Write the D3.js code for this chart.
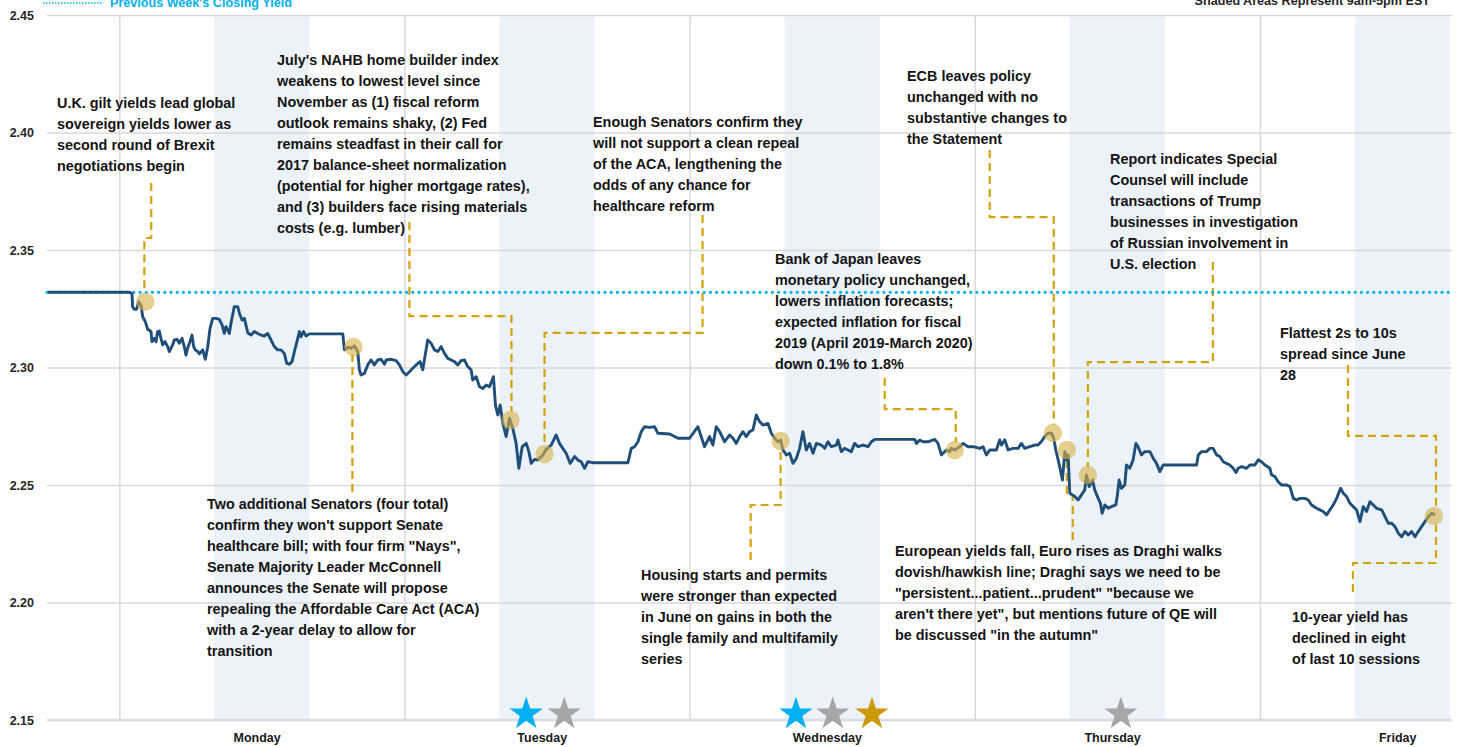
<!DOCTYPE html>
<html>
<head>
<meta charset="utf-8">
<script src="https://cdn.jsdelivr.net/npm/d3@7"></script>
<style>
  body { margin: 0; background: #fff; }
  svg { display: block; font-family: "Liberation Sans", Arial, sans-serif; }
</style>
</head>
<body>
<svg id="chart" width="1458" height="747"></svg>
<script>
// hours since Monday 00:00 and the 10-year yield at that time
const timeHours = [-6, 0.84, 1.07, 1.12, 1.26, 1.46, 1.63, 1.83, 1.97, 2.19, 2.39, 2.67, 2.75, 2.95, 3.09, 3.23, 3.37, 3.51, 3.65, 3.85,
  4.07, 4.21, 4.49, 4.63, 4.86, 5.05, 5.28, 5.47, 5.61, 5.75, 5.95, 6.12, 6.26, 6.40, 6.60, 6.74, 7.02, 7.24, 7.44, 7.64,
  7.86, 8.14, 8.42, 8.65, 8.84, 8.98, 9.26, 9.40, 9.68, 9.97, 10.11, 10.33, 10.53, 10.81, 11.09, 11.37, 11.65, 11.93, 12.21, 12.49,
  12.77, 13.05, 13.33, 13.61, 13.89, 14.09, 14.32, 14.54, 14.74, 15.02, 15.16, 15.30, 15.50, 15.72, 16.00, 18.81, 18.95, 19.23, 19.51, 19.79,
  20.07, 20.21, 20.35, 20.63, 20.91, 21.19, 21.47, 21.75, 22.03, 22.32, 22.46, 22.88, 23.30, 23.58, 23.86, 24.14, 24.42, 24.70, 24.98, 25.32,
  25.54, 25.68, 25.96, 26.25, 26.53, 26.81, 27.09, 27.37, 27.65, 27.93, 28.21, 28.49, 28.77, 29.05, 29.33, 29.61, 29.75, 30.04, 30.32, 30.60,
  30.88, 31.16, 31.49, 31.66, 31.86, 32.06, 32.28, 32.56, 32.84, 33.12, 33.40, 33.63, 33.91, 34.25, 34.47, 34.67, 34.95, 35.23, 35.65, 35.93,
  36.35, 36.77, 37.05, 37.33, 37.61, 37.95, 38.32, 38.60, 38.88, 39.16, 39.44, 39.86, 42.81, 43.09, 43.37, 43.65, 43.93, 44.21, 44.63, 45.05,
  45.33, 46.32, 47.02, 48.00, 48.70, 49.26, 49.68, 49.96, 50.24, 50.53, 50.95, 51.37, 51.65, 51.93, 52.21, 52.49, 52.77, 53.05, 53.33, 53.61,
  53.89, 54.17, 54.60, 54.88, 55.16, 55.44, 55.66, 55.86, 56.14, 56.42, 56.70, 56.98, 57.26, 57.54, 57.82, 58.10, 58.39, 58.67, 59.09, 59.37,
  59.65, 59.93, 60.35, 60.49, 60.77, 61.05, 61.33, 61.61, 61.89, 62.18, 62.60, 63.02, 63.30, 63.58, 66.95, 67.09, 67.37, 67.65, 68.07, 68.63,
  68.91, 69.19, 69.61, 69.89, 70.03, 70.32, 70.74, 71.02, 71.44, 71.86, 72.42, 72.70, 72.98, 73.26, 73.82, 74.10, 74.25, 74.53, 74.81, 75.23,
  75.65, 75.93, 76.21, 76.63, 77.05, 77.33, 77.61, 77.89, 78.17, 78.46, 78.65, 78.82, 79.02, 79.21, 79.38, 79.58, 79.72, 79.86, 80.00, 80.22,
  80.42, 80.70, 80.98, 81.26, 81.40, 81.63, 81.91, 82.10, 82.39, 82.58, 82.72, 82.95, 83.23, 83.51, 83.87, 84.01, 84.15, 84.35, 84.63, 84.77,
  85.05, 85.33, 85.56, 85.75, 86.03, 86.32, 86.74, 87.02, 87.30, 87.58, 87.86, 88.00, 90.67, 90.81, 91.09, 91.51, 91.79, 92.07, 92.35, 92.63,
  92.91, 93.19, 93.47, 93.75, 93.98, 94.17, 94.46, 94.88, 95.16, 95.58, 95.86, 96.14, 96.42, 96.84, 96.98, 97.26, 97.54, 97.82, 98.25, 98.53,
  98.81, 99.09, 99.37, 99.79, 100.07, 100.35, 100.77, 101.05, 101.33, 101.61, 101.89, 102.17, 102.46, 102.79, 103.02, 103.30, 103.58, 103.86, 104.14, 104.42,
  104.70, 104.98, 105.26, 105.54, 105.82, 106.25, 106.53, 106.81, 107.09, 107.37, 107.65, 107.93, 108.21, 108.49, 108.77, 109.05, 109.33, 109.61, 109.89, 110.18,
  110.46, 110.74];
const yieldValues = [2.332, 2.332, 2.3315, 2.3259, 2.3248, 2.3248, 2.3280, 2.3266, 2.3216, 2.3195, 2.3163, 2.3153, 2.3110, 2.3124, 2.3110, 2.3153, 2.3155, 2.3124, 2.3096, 2.3110,
  2.3089, 2.3068, 2.3096, 2.3117, 2.3120, 2.3103, 2.3124, 2.3089, 2.3053, 2.3082, 2.3110, 2.3138, 2.3089, 2.3075, 2.3068, 2.3058, 2.3075, 2.3035, 2.3086, 2.3167,
  2.3209, 2.3209, 2.3205, 2.3181, 2.3145, 2.3174, 2.3145, 2.3188, 2.3259, 2.3259, 2.3231, 2.3202, 2.3209, 2.3148, 2.3138, 2.3153, 2.3145, 2.3138, 2.3134, 2.3145,
  2.3117, 2.3089, 2.3075, 2.3075, 2.3060, 2.3018, 2.3014, 2.3025, 2.3068, 2.3124, 2.3153, 2.3131, 2.3153, 2.3134, 2.3143, 2.3143, 2.3075, 2.3086, 2.3082, 2.3092,
  2.3068, 2.2990, 2.2968, 2.2975, 2.3011, 2.3032, 2.3011, 2.3032, 2.3035, 2.3014, 2.3032, 2.3035, 2.3029, 2.3011, 2.2982, 2.2968, 2.2982, 2.2997, 2.3011, 2.3025,
  2.2990, 2.3032, 2.3117, 2.3103, 2.3075, 2.3068, 2.3089, 2.3060, 2.3039, 2.3032, 2.3025, 2.3011, 2.3029, 2.3032, 2.3004, 2.2990, 2.2947, 2.2961, 2.2918, 2.2911,
  2.2926, 2.2918, 2.2961, 2.2840, 2.2798, 2.2840, 2.2763, 2.2706, 2.2784, 2.2741, 2.2677, 2.2571, 2.2663, 2.2677, 2.2642, 2.2592, 2.2609, 2.2606, 2.2628, 2.2652,
  2.2670, 2.2713, 2.2677, 2.2656, 2.2635, 2.2592, 2.2621, 2.2606, 2.2599, 2.2571, 2.2599, 2.2595, 2.2595, 2.2656, 2.2663, 2.2684, 2.2727, 2.2748, 2.2745, 2.2748,
  2.2720, 2.2717, 2.2699, 2.2699, 2.2748, 2.2663, 2.2706, 2.2670, 2.2748, 2.2727, 2.2684, 2.2713, 2.2699, 2.2677, 2.2706, 2.2727, 2.2706, 2.2727, 2.2734, 2.2798,
  2.2770, 2.2755, 2.2762, 2.2720, 2.2699, 2.2684, 2.2691, 2.2649, 2.2628, 2.2635, 2.2592, 2.2613, 2.2656, 2.2727, 2.2649, 2.2677, 2.2635, 2.2677, 2.2670, 2.2656,
  2.2684, 2.2663, 2.2670, 2.2691, 2.2642, 2.2656, 2.2649, 2.2642, 2.2677, 2.2663, 2.2670, 2.2663, 2.2684, 2.2694, 2.2694, 2.2677, 2.2691, 2.2684, 2.2684, 2.2694,
  2.2677, 2.2628, 2.2649, 2.2642, 2.2656, 2.2649, 2.2663, 2.2677, 2.2663, 2.2663, 2.2656, 2.2663, 2.2628, 2.2649, 2.2649, 2.2692, 2.2670, 2.2692, 2.2649, 2.2656,
  2.2656, 2.2677, 2.2656, 2.2663, 2.2670, 2.2670, 2.2685, 2.2706, 2.2720, 2.2720, 2.2699, 2.2649, 2.2607, 2.2564, 2.2521, 2.2642, 2.2607, 2.2628, 2.2465, 2.2458,
  2.2451, 2.2436, 2.2458, 2.2479, 2.2543, 2.2493, 2.2521, 2.2479, 2.2443, 2.2422, 2.2380, 2.2415, 2.2401, 2.2408, 2.2415, 2.2458, 2.2521, 2.2486, 2.2500, 2.2585,
  2.2571, 2.2607, 2.2677, 2.2663, 2.2628, 2.2642, 2.2642, 2.2614, 2.2592, 2.2557, 2.2585, 2.2585, 2.2585, 2.2628, 2.2642, 2.2642, 2.2656, 2.2656, 2.2628, 2.2621,
  2.2599, 2.2592, 2.2585, 2.2571, 2.2553, 2.2571, 2.2578, 2.2571, 2.2585, 2.2585, 2.2607, 2.2599, 2.2585, 2.2571, 2.2543, 2.2536, 2.2514, 2.2500, 2.2500, 2.2493,
  2.2443, 2.2436, 2.2443, 2.2443, 2.2436, 2.2415, 2.2401, 2.2394, 2.2387, 2.2373, 2.2394, 2.2415, 2.2443, 2.2486, 2.2465, 2.2451, 2.2422, 2.2408, 2.2394, 2.2344,
  2.2408, 2.2387, 2.2429, 2.2415, 2.2401, 2.2394, 2.2365, 2.2337, 2.2337, 2.2323, 2.2295, 2.2280, 2.2302, 2.2287, 2.2302, 2.2280, 2.2302, 2.2323, 2.2344, 2.2365,
  2.2380, 2.2373];

const prevWeekClose = 2.332;
const yTicks = [2.15, 2.20, 2.25, 2.30, 2.35, 2.40, 2.45];
const dayNames = ["Monday", "Tuesday", "Wednesday", "Thursday", "Friday"];
const dayStarts = [0, 24, 48, 72, 96];

// highlighted events on the line
const eventHours = [2.19, 19.71, 32.93, 35.79, 55.66, 70.32, 78.57, 79.75, 81.52, 110.65];
const eventYields = [2.328, 2.3087, 2.2777, 2.2632, 2.2687, 2.2649, 2.2721, 2.2649, 2.2543, 2.2368];

// data release stars
const starHours = [34.25, 37.45, 56.95, 60.05, 63.35, 84.3];
const starKinds = ["cyan", "gray", "cyan", "gray", "gold", "gray"];

const notes = [
  ["U.K. gilt yields lead global", "sovereign yields lower as", "second round of Brexit", "negotiations begin"],
  ["July's NAHB home builder index", "weakens to lowest level since", "November as (1) fiscal reform", "outlook remains shaky, (2) Fed",
   "remains steadfast in their call for", "2017 balance-sheet normalization", "(potential for higher mortgage rates),",
   "and (3) builders face rising materials", "costs (e.g. lumber)"],
  ["Enough Senators confirm they", "will not support a clean repeal", "of the ACA, lengthening the", "odds of any chance for", "healthcare reform"],
  ["ECB leaves policy", "unchanged with no", "substantive changes to", "the Statement"],
  ["Report indicates Special", "Counsel will include", "transactions of Trump", "businesses in investigation", "of Russian involvement in", "U.S. election"],
  ["Bank of Japan leaves", "monetary policy unchanged,", "lowers inflation forecasts;", "expected inflation for fiscal", "2019 (April 2019-March 2020)", "down 0.1% to 1.8%"],
  ["Flattest 2s to 10s", "spread since June", "28"],
  ["Two additional Senators (four total)", "confirm they won't support Senate", "healthcare bill; with four firm \"Nays\",",
   "Senate Majority Leader McConnell", "announces the Senate will propose", "repealing the Affordable Care Act (ACA)",
   "with a 2-year delay to allow for", "transition"],
  ["Housing starts and permits", "were stronger than expected", "in June on gains in both the", "single family and multifamily", "series"],
  ["European yields fall, Euro rises as Draghi walks", "dovish/hawkish line; Draghi says we need to be",
   "\"persistent...patient...prudent\" \"because we", "aren't there yet\", but mentions future of QE will", "be discussed \"in the autumn\""],
  ["10-year yield has", "declined in eight", "of last 10 sessions"]
];
// where each note sits (left, first baseline) in pixels
const noteSpots = [[57, 108], [277, 65], [593, 127], [907, 81], [1110, 164], [775, 264], [1280, 338], [207, 509], [641, 580], [895, 556], [1292, 622]];

// leader routes in [hour, yield]
const leaders = [
  [[2.69, 2.3785], [2.69, 2.3551], [2.11, 2.3551], [2.11, 2.332]],
  [[24.42, 2.3619], [24.42, 2.3219], [33.01, 2.3219], [33.01, 2.2811]],
  [[49.09, 2.3649], [49.09, 2.3147], [35.79, 2.3147], [35.79, 2.2666]],
  [[73.26, 2.3926], [73.26, 2.364], [78.65, 2.364], [78.65, 2.2755]],
  [[92.04, 2.3449], [92.04, 2.3023], [81.52, 2.3023], [81.52, 2.2575]],
  [[64.42, 2.2955], [64.42, 2.2823], [70.4, 2.2823], [70.4, 2.2683]],
  [[103.41, 2.3011], [103.41, 2.2709], [110.82, 2.2709], [110.82, 2.2402]],
  [[19.62, 2.247], [19.62, 2.3055]],
  [[53.14, 2.2181], [53.14, 2.2415], [55.66, 2.2415], [55.66, 2.2655]],
  [[80.25, 2.2266], [80.25, 2.2457], [79.75, 2.2457], [79.75, 2.2617]],
  [[103.83, 2.2045], [103.83, 2.2168], [110.82, 2.2168], [110.82, 2.2330]]
];

const svg = d3.select("#chart");
const plotLeft = 47, plotRight = 1452, plotTop = 15, plotBottom = 720;

const x = d3.scaleLinear().domain([-6, 112]).range([48, 1450]);
const y = d3.scaleLinear().domain([2.15, 2.45]).range([plotBottom, plotTop]);

const starColor = d3.scaleOrdinal().domain(["cyan", "gray", "gold"]).range(["#00B0F0", "#A6A6A6", "#CC9A06"]);

// shaded 9am-5pm windows
svg.append("g").selectAll("rect")
  .data(dayStarts)
  .enter()
  .append("rect")
  .attr("x", d => x(d + 8))
  .attr("y", plotTop)
  .attr("width", d => Math.min(x(d + 16), x(112)) - x(d + 8))
  .attr("height", plotBottom - plotTop)
  .attr("fill", "#EBF2FA");

// horizontal grid + labels
const yAxis = svg.append("g")
  .attr("transform", `translate(${plotLeft},0)`)
  .call(d3.axisLeft(y).tickValues(yTicks).tickFormat(d3.format(".2f")).tickSize(-(plotRight - plotLeft)).tickPadding(13));
yAxis.select(".domain").remove();
yAxis.selectAll(".tick line").attr("stroke", "#D9D9D9").attr("stroke-width", 1.5);
yAxis.selectAll(".tick text").attr("font-size", 12.5).attr("font-weight", "bold").attr("fill", "#262626")
  .attr("font-family", "'Liberation Sans', Arial, sans-serif");

// day boundary lines
const xAxis = svg.append("g")
  .attr("transform", `translate(0,${plotBottom})`)
  .call(d3.axisBottom(x).tickValues(dayStarts).tickSize(-(plotBottom - plotTop)).tickFormat(""));
xAxis.select(".domain").remove();
xAxis.selectAll(".tick line").attr("stroke", "#D9D9D9").attr("stroke-width", 1.5);

svg.append("line")
  .attr("x1", plotLeft).attr("x2", plotRight)
  .attr("y1", plotBottom).attr("y2", plotBottom)
  .attr("stroke", "#D9DEE6").attr("stroke-width", 2.5);

svg.append("g").selectAll("text")
  .data(dayNames)
  .enter()
  .append("text")
  .attr("x", (d, i) => x(dayStarts[i] + 11.6))
  .attr("y", 742)
  .attr("text-anchor", "middle")
  .attr("font-size", 12.5)
  .attr("font-weight", "bold")
  .attr("fill", "#1a1a1a")
  .text(d => d);

// leader lines
const leaderLine = d3.line().x(d => x(d[0])).y(d => y(d[1]));
svg.append("g").selectAll("path")
  .data(leaders)
  .enter()
  .append("path")
  .attr("d", leaderLine)
  .attr("fill", "none")
  .attr("stroke", "#D4A20C")
  .attr("stroke-width", 2.2)
  .attr("stroke-dasharray", "8,5");

// previous week close
svg.append("line")
  .attr("x1", plotLeft).attr("x2", plotRight)
  .attr("y1", y(prevWeekClose)).attr("y2", y(prevWeekClose))
  .attr("stroke", "#00B0F0").attr("stroke-width", 3.2)
  .attr("stroke-linecap", "round").attr("stroke-dasharray", "0,6.2");

// yield line
const points = timeHours.map((h, i) => [h, yieldValues[i]]);
svg.append("path")
  .datum(points)
  .attr("d", d3.line().x(d => x(d[0])).y(d => y(d[1])))
  .attr("fill", "none")
  .attr("stroke", "#1F4E79")
  .attr("stroke-width", 2.9)
  .attr("stroke-linejoin", "round");

// event markers
svg.append("g").selectAll("circle")
  .data(eventHours)
  .enter()
  .append("circle")
  .attr("cx", d => x(d))
  .attr("cy", (d, i) => y(eventYields[i]))
  .attr("r", 9.2)
  .attr("fill", "#D9B14A")
  .attr("fill-opacity", 0.62);

// stars
svg.append("g").selectAll("path")
  .data(starHours)
  .enter()
  .append("path")
  .attr("transform", d => `translate(${x(d)},714)`)
  .attr("d", d3.symbol().type(d3.symbolStar).size(345))
  .attr("fill", (d, i) => starColor(starKinds[i]));

// notes
notes.forEach((lines, i) => {
  const t = svg.append("text")
    .attr("x", noteSpots[i][0])
    .attr("y", noteSpots[i][1])
    .attr("font-size", 14.4)
    .attr("font-weight", "bold")
    .attr("fill", "#141414");
  lines.forEach((s, j) => {
    t.append("tspan").attr("x", noteSpots[i][0]).attr("dy", j === 0 ? 0 : 21).text(s);
  });
});

// legend and header
svg.append("line")
  .attr("x1", 43).attr("x2", 103).attr("y1", 3).attr("y2", 3)
  .attr("stroke", "#00B0F0").attr("stroke-width", 1.5).attr("stroke-dasharray", "1.5,1.5");
svg.append("text")
  .attr("x", 110).attr("y", 7)
  .attr("font-size", 12.6).attr("font-weight", "bold").attr("fill", "#00B0F0")
  .text("Previous Week's Closing Yield");
svg.append("text")
  .attr("x", 1430).attr("y", 5)
  .attr("text-anchor", "end")
  .attr("font-size", 12.6).attr("font-weight", "bold").attr("fill", "#262626")
  .text("Shaded Areas Represent 9am-5pm EST");
</script>
</body>
</html>
